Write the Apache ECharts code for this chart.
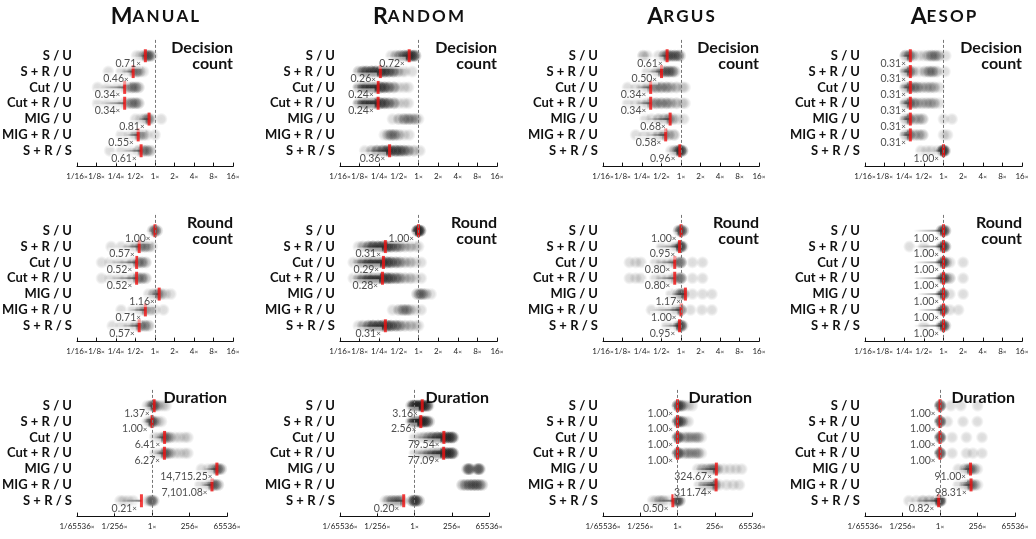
<!DOCTYPE html>
<html>
<head>
<meta charset="utf-8">
<script src="https://cdn.jsdelivr.net/npm/echarts@6/dist/echarts.min.js"></script>
<style>
  html, body { margin: 0; padding: 0; background: #fff; }
  #chart { width: 1036px; height: 539px; }
</style>
</head>
<body>
<div id="chart"></div>
<script>
const systems = ['Manual', 'Random', 'Argus', 'Aesop']
const metrics = ['Decision\ncount', 'Round\ncount', 'Duration']
const rowNames = ['S / U', 'S\u2005+\u2005R / U', 'Cut / U', 'Cut\u2005+\u2005R / U', 'MIG / U', 'MIG\u2005+\u2005R / U', 'S\u2005+\u2005R / S']
const ratioTicks = ['1/16', '1/8', '1/4', '1/2', '1', '2', '4', '8', '16']
const durationTicks = ['1/65536', '1/256', '1', '256', '65536']

// medians, whisker starts, and dots as [ratio, how many runs]
const decManualMed = [0.71, 0.46, 0.34, 0.34, 0.81, 0.55, 0.61]
const decManualLo = [0.6, 0.3, 0.15, 0.15, 0.55, 0.35, 0.3]
const decManualDots = [
  [[0.52,1],[0.6,1],[0.68,2],[0.75,3],[0.8,3],[0.85,2],[0.9,1]],
  [[0.19,1],[0.3,1],[0.38,1],[0.45,2],[0.52,3],[0.58,2],[0.66,1]],
  [[0.13,1],[0.18,1],[0.25,1],[0.32,1],[0.38,2],[0.44,3],[0.5,3],[0.56,2]],
  [[0.13,1],[0.18,1],[0.25,1],[0.32,1],[0.38,2],[0.44,3],[0.5,3],[0.56,2]],
  [[0.5,1],[0.6,1],[0.7,2],[0.78,3],[0.85,2],[1.25,1]],
  [[0.3,1],[0.4,1],[0.5,2],[0.58,2],[0.66,2],[0.75,1],[1.0,1]],
  [[0.2,1],[0.3,1],[0.42,1],[0.55,2],[0.66,3],[0.75,3],[0.85,2]]
]

const decRandomMed = [0.72, 0.26, 0.24, 0.24, null, null, 0.36]
const decRandomLo = [0.5, 0.12, 0.12, 0.12, null, null, 0.15]
const decRandomDots = [
  [[0.38,1],[0.45,2],[0.52,3],[0.6,4],[0.68,5],[0.76,5],[0.84,5],[0.9,3]],
  [[0.12,2],[0.14,4],[0.16,5],[0.19,6],[0.22,6],[0.26,6],[0.3,6],[0.35,5],[0.41,4],[0.48,2],[0.56,1],[0.62,1],[0.8,1]],
  [[0.12,3],[0.14,5],[0.16,6],[0.19,6],[0.22,6],[0.26,6],[0.3,5],[0.35,4],[0.42,3],[0.5,1],[0.6,1],[0.7,1]],
  [[0.12,3],[0.14,5],[0.16,6],[0.19,6],[0.22,6],[0.26,6],[0.3,5],[0.35,4],[0.42,3],[0.5,1],[0.6,1],[0.7,1]],
  [[0.4,1],[0.5,2],[0.6,3],[0.7,3],[0.8,2],[0.9,2],[1.0,1]],
  [[0.3,1],[0.34,2],[0.38,3],[0.43,3],[0.5,2],[0.6,1],[0.72,1]],
  [[0.15,1],[0.19,2],[0.23,4],[0.28,5],[0.33,6],[0.38,6],[0.45,6],[0.52,5],[0.6,4],[0.7,3],[0.85,2],[1.05,1]]
]

const decArgusMed = [0.61, 0.50, 0.34, 0.34, 0.68, 0.58, 0.96]
const decArgusLo = [0.45, 0.3, 0.2, 0.2, 0.3, 0.3, 0.8]
const decArgusDots = [
  [[0.26,2],[0.3,1],[0.45,1],[0.55,3],[0.62,4],[0.7,4],[0.8,4],[0.9,3],[0.97,2]],
  [[0.3,1],[0.42,2],[0.5,3],[0.57,4],[0.65,4],[0.73,3],[0.8,2]],
  [[0.15,1],[0.2,1],[0.25,1],[0.3,2],[0.36,2],[0.42,3],[0.5,3],[0.6,3],[0.7,2],[0.85,2],[1.05,1],[1.15,1]],
  [[0.15,1],[0.2,1],[0.25,1],[0.3,2],[0.36,2],[0.42,3],[0.5,3],[0.6,3],[0.7,2],[0.85,2],[1.05,1],[1.15,1]],
  [[0.28,1],[0.35,1],[0.45,2],[0.55,2],[0.65,3],[0.75,2],[0.9,1],[1.1,1]],
  [[0.2,1],[0.27,1],[0.35,1],[0.45,2],[0.55,3],[0.65,2],[0.78,2]],
  [[0.7,1],[0.8,2],[0.9,4],[0.98,6],[1.05,4]]
]

const decAesopMed = [0.31, 0.31, 0.31, 0.31, 0.31, 0.31, 1.00]
const decAesopLo = [0.23, 0.23, 0.23, 0.23, 0.23, 0.23, 0.7]
const decAesopDots = [
  [[0.26,3],[0.3,4],[0.34,2],[0.42,1],[0.5,1],[0.58,2],[0.66,3],[0.75,3],[0.85,2],[1.08,1]],
  [[0.26,3],[0.3,4],[0.34,2],[0.42,1],[0.52,2],[0.6,3],[0.68,3],[0.78,2],[1.05,1]],
  [[0.26,3],[0.3,4],[0.35,3],[0.4,3],[0.47,2],[0.55,2],[0.63,2],[0.72,2],[0.85,1]],
  [[0.26,3],[0.3,4],[0.35,3],[0.4,2],[0.47,2],[0.55,2],[0.63,2],[0.72,2],[0.85,1]],
  [[0.26,3],[0.3,4],[0.36,2],[0.42,2],[0.48,2],[1.0,1],[1.35,1]],
  [[0.26,3],[0.3,4],[0.36,2],[0.42,2],[0.48,2],[1.0,1],[1.15,1]],
  [[0.45,1],[0.55,1],[0.65,1],[0.8,1],[0.95,4],[1.0,6],[1.05,3]]
]

const rndManualMed = [1.00, 0.57, 0.52, 0.52, 1.16, 0.71, 0.57]
const rndManualLo = [0.95, 0.3, 0.2, 0.2, 0.9, 0.4, 0.3]
const rndManualDots = [
  [[0.92,2],[1.0,4],[1.08,2]],
  [[0.21,1],[0.3,1],[0.4,1],[0.5,2],[0.6,3],[0.7,3],[0.8,2],[0.9,1]],
  [[0.15,1],[0.2,1],[0.27,1],[0.35,1],[0.45,2],[0.55,3],[0.63,3],[0.72,2]],
  [[0.15,1],[0.2,1],[0.27,1],[0.35,1],[0.45,2],[0.55,3],[0.63,3],[0.72,2]],
  [[0.8,1],[0.95,2],[1.1,3],[1.25,2],[1.45,1],[1.75,1]],
  [[0.3,1],[0.45,1],[0.6,2],[0.7,2],[0.85,2],[1.0,1],[1.35,1]],
  [[0.22,1],[0.3,1],[0.4,1],[0.5,2],[0.6,3],[0.7,3],[0.8,2]]
]

const rndRandomMed = [1.00, 0.31, 0.29, 0.28, null, null, 0.31]
const rndRandomLo = [0.95, 0.12, 0.1, 0.1, null, null, 0.12]
const rndRandomDots = [
  [[0.95,5],[1.0,8],[1.07,5]],
  [[0.12,1],[0.14,2],[0.17,4],[0.2,6],[0.24,6],[0.28,6],[0.33,6],[0.38,5],[0.45,4],[0.52,3],[0.62,2],[0.75,2],[0.9,1],[1.0,1]],
  [[0.1,1],[0.12,2],[0.14,4],[0.17,6],[0.2,6],[0.24,6],[0.28,6],[0.33,6],[0.38,5],[0.45,4],[0.52,3],[0.62,2],[0.75,2],[0.9,1],[1.1,1]],
  [[0.1,1],[0.12,2],[0.14,4],[0.17,6],[0.2,6],[0.24,6],[0.28,6],[0.33,6],[0.38,5],[0.45,4],[0.52,3],[0.62,2],[0.75,2],[0.9,1],[1.1,1]],
  [[0.95,2],[1.05,3],[1.15,3],[1.3,2],[1.55,1]],
  [[0.4,1],[0.5,2],[0.58,3],[0.66,3],[0.75,2],[0.9,1],[1.1,1]],
  [[0.12,1],[0.14,2],[0.17,4],[0.2,6],[0.24,6],[0.28,6],[0.33,6],[0.38,5],[0.45,4],[0.52,3],[0.62,2],[0.75,2],[0.9,1],[1.0,1]]
]

const rndArgusMed = [1.00, 0.95, 0.80, 0.80, 1.17, 1.00, 0.95]
const rndArgusLo = [0.95, 0.4, 0.4, 0.4, 0.7, 0.35, 0.5]
const rndArgusDots = [
  [[0.92,3],[1.0,5],[1.08,3]],
  [[0.5,1],[0.7,1],[0.85,2],[0.95,3],[1.0,5],[1.06,2]],
  [[0.16,1],[0.2,1],[0.24,1],[0.4,1],[0.5,1],[0.62,1],[0.75,2],[0.9,2],[1.0,4],[1.5,1],[2.15,1]],
  [[0.16,1],[0.2,1],[0.24,1],[0.4,1],[0.5,1],[0.62,1],[0.75,2],[0.9,2],[1.0,4],[1.5,1],[2.15,1]],
  [[0.7,1],[0.9,2],[1.0,4],[1.1,3],[1.5,1],[2.15,1],[3.0,1]],
  [[0.35,1],[0.5,1],[0.7,1],[0.85,2],[1.0,4],[1.4,1],[2.1,1],[3.0,1]],
  [[0.6,1],[0.8,1],[0.92,3],[1.0,5],[1.06,2]]
]

const rndAesopMed = [1.00, 1.00, 1.00, 1.00, 1.00, 1.00, 1.00]
const rndAesopLo = [0.35, 0.35, 0.35, 0.35, 0.4, 0.4, 0.35]
const rndAesopDots = [
  [[0.93,3],[1.0,5],[1.07,3]],
  [[0.3,1],[0.5,1],[0.93,3],[1.0,5],[1.07,3]],
  [[0.93,3],[1.0,5],[1.1,2],[1.25,1],[2.0,1]],
  [[0.93,3],[1.0,5],[1.1,2],[1.25,2],[2.0,1]],
  [[0.93,3],[1.0,5],[1.25,1],[2.0,1]],
  [[0.93,3],[1.0,5],[1.25,1],[1.7,1]],
  [[0.5,1],[0.93,3],[1.0,5],[1.07,2]]
]

const durManualMed = [1.37, 1.00, 6.41, 6.27, 14715.25, 7101.08, 0.21]
const durManualLo = [0.7, 0.6, 1.5, 1.5, 2000, 1500, 0.009]
const durManualDots = [
  [[0.5,1],[0.8,2],[1.1,3],[1.4,3],[2,2],[3,1],[5,1],[8,1]],
  [[0.5,1],[0.7,2],[0.9,3],[1.1,3],[1.6,2],[2.5,1],[4,1]],
  [[1.5,1],[3,1],[5,2],[7,3],[10,2],[15,2],[30,1],[60,1],[120,1],[200,1]],
  [[1.5,1],[3,1],[5,2],[7,3],[10,2],[15,2],[30,1],[60,1],[120,1],[200,1]],
  [[1500,1],[4000,1],[8000,2],[14000,3],[20000,3],[28000,2]],
  [[1200,1],[3000,1],[5000,2],[8000,3],[12000,3],[18000,2]],
  [[0.009,1],[0.015,1],[0.03,1],[0.06,1],[0.5,1],[0.8,2],[1.0,3],[1.3,2]]
]

const durRandomMed = [3.16, 2.56, 79.54, 77.09, null, null, 0.20]
const durRandomLo = [0.6, 0.6, 1, 1, null, null, 0.013]
const durRandomDots = [
  [[0.6,2],[0.8,4],[1.0,5],[1.5,6],[2.2,6],[3.2,6],[4.5,5],[6.5,4],[8,2]],
  [[0.6,2],[0.8,4],[1.0,5],[1.5,6],[2.2,6],[3.2,6],[4.5,5],[6.5,4],[9,2]],
  [[1,1],[2,1],[4,2],[8,3],[15,4],[30,6],[60,6],[100,6],[160,6],[250,5],[320,3]],
  [[1,1],[2,1],[4,2],[8,3],[15,4],[30,6],[60,6],[100,6],[160,6],[250,5],[320,3]],
  [[2500,2],[3200,4],[4000,2],[11000,2],[14000,4],[17000,2]],
  [[1200,2],[2000,3],[3500,4],[6000,4],[10000,4],[16000,3],[24000,2]],
  [[0.013,1],[0.02,2],[0.035,3],[0.06,3],[0.1,3],[0.15,2],[0.7,3],[1.0,6],[1.4,4],[2,2]]
]

const durArgusMed = [1.00, 1.00, 1.00, 1.00, 324.67, 311.74, 0.50]
const durArgusLo = [0.9, 0.9, 0.9, 0.9, 15, 20, 0.03]
const durArgusDots = [
  [[1.0,5],[1.4,4],[2,3],[3,1],[5,1],[9,1]],
  [[1.0,5],[1.4,4],[2,3],[3,1],[5,1]],
  [[1.0,5],[1.4,3],[3,2],[5,2],[8,2],[14,2],[22,2],[35,1]],
  [[1.0,5],[1.4,3],[3,2],[5,2],[8,2],[14,2],[22,2],[35,1]],
  [[20,1],[40,2],[80,2],[150,3],[250,3],[400,2],[1000,1],[2500,1],[6000,1],[14000,1]],
  [[25,1],[50,2],[100,2],[180,3],[280,3],[500,1],[1500,1],[4000,1],[10000,1]],
  [[0.025,1],[0.04,1],[0.07,2],[0.12,2],[0.25,1],[0.8,2],[1.0,5],[1.4,3]]
]

const durAesopMed = [1.00, 1.00, 1.00, 1.00, 91.00, 98.31, 0.82]
const durAesopLo = [0.9, 0.9, 0.9, 0.9, 20, 20, 0.02]
const durAesopDots = [
  [[1.0,5],[1.1,2],[5,1],[22,1],[260,1]],
  [[1.0,5],[1.1,2],[3,1],[30,1],[250,1]],
  [[1.0,5],[1.1,2],[6,1],[50,1],[500,1]],
  [[1.0,5],[1.1,2],[6,1],[50,1],[130,1],[500,1]],
  [[15,1],[40,2],[70,3],[100,3],[160,2],[250,1]],
  [[15,1],[40,2],[70,3],[110,3],[170,2],[260,1]],
  [[0.01,1],[0.03,1],[0.08,2],[0.2,2],[0.5,2],[0.9,3],[1.0,5],[1.2,2]]
]

const panels = [
  [decManualMed, decManualLo, decManualDots], [decRandomMed, decRandomLo, decRandomDots],
  [decArgusMed, decArgusLo, decArgusDots], [decAesopMed, decAesopLo, decAesopDots],
  [rndManualMed, rndManualLo, rndManualDots], [rndRandomMed, rndRandomLo, rndRandomDots],
  [rndArgusMed, rndArgusLo, rndArgusDots], [rndAesopMed, rndAesopLo, rndAesopDots],
  [durManualMed, durManualLo, durManualDots], [durRandomMed, durRandomLo, durRandomDots],
  [durArgusMed, durArgusLo, durArgusDots], [durAesopMed, durAesopLo, durAesopDots]
]

// layout
const gridTops = [39.9, 214.9, 389.9]
const gridHeight = 126.7
const gridLefts = [77, 340, 603, 865]
const gridWidths = [[156, 157, 156, 157], [156, 157, 156, 157], [150, 149, 149, 150]]
const font = 'Lato'

const fmt = v => v.toLocaleString('en-US', { minimumFractionDigits: 2, maximumFractionDigits: 2 })
const smallCaps = s => '{a|' + s[0] + '}{b|' + s.slice(1).toUpperCase().split('').join('\u2009') + '}'

const dotColor = new echarts.graphic.RadialGradient(0.5, 0.5, 0.5, [
  { offset: 0, color: 'rgba(30,30,30,0.2)' },
  { offset: 0.55, color: 'rgba(30,30,30,0.17)' },
  { offset: 1, color: 'rgba(30,30,30,0)' }
])

const option = { animation: false, grid: [], xAxis: [], yAxis: [], series: [], graphic: [] }

panels.forEach((p, i) => {
  const m = Math.floor(i / 4), c = i % 4
  const [med, lo, dots] = p
  const isDur = m === 2
  const ticks = isDur ? durationTicks : ratioTicks
  const span = isDur ? 16 : 4
  const step = isDur ? 8 : 1

  option.grid.push({
    left: gridLefts[c], top: gridTops[m], width: gridWidths[m][c], height: gridHeight,
    outerBoundsMode: 'none'
  })
  option.xAxis.push({
    gridIndex: i, type: 'value', position: 'bottom', min: -span, max: span, interval: step,
    axisLine: { onZero: false, lineStyle: { color: '#111', width: 1 } },
    axisTick: { inside: true, length: 4, lineStyle: { color: '#111' } },
    splitLine: { show: false },
    axisLabel: {
      margin: 6, hideOverlap: false, showMinLabel: true, showMaxLabel: true,
      formatter: v => '{n|' + ticks[Math.round((v + span) / step)] + '}{x|×}',
      rich: {
        n: { fontFamily: font, fontSize: 8, color: '#222' },
        x: { fontFamily: font, fontSize: 6.5, color: '#222' }
      }
    }
  })
  option.yAxis.push({
    gridIndex: i, type: 'value', inverse: true, min: -1, max: 7, interval: 1,
    axisLine: { show: false }, axisTick: { show: false }, splitLine: { show: false },
    axisLabel: {
      margin: 5, fontFamily: font, fontWeight: 'bold', fontSize: 13, color: '#111',
      formatter: v => rowNames[Math.round(v)] || ''
    }
  })

  const dotData = []
  dots.forEach((row, r) => row.forEach(([v, n]) => {
    for (let k = 0; k < n; k++) dotData.push([Math.log2(v), r])
  }))
  option.series.push({
    type: 'scatter', xAxisIndex: i, yAxisIndex: i, silent: true, z: 1,
    symbolSize: 13, itemStyle: { color: dotColor },
    data: dotData,
    markLine: {
      silent: true, symbol: ['none', 'none'], label: { show: false },
      lineStyle: { type: [3, 2], color: '#777', width: 1 },
      data: [{ xAxis: 0 }]
    }
  })

  const whisk = [], meds = []
  med.forEach((v, r) => {
    if (v == null) return
    whisk.push([Math.log2(lo[r]), Math.log2(v), r])
    meds.push([Math.log2(v), r, v])
  })
  option.series.push({
    type: 'custom', xAxisIndex: i, yAxisIndex: i, silent: true, z: 2,
    data: whisk,
    renderItem: (params, api) => {
      const a = api.coord([api.value(0), api.value(2)])
      const b = api.coord([api.value(1), api.value(2)])
      return {
        type: 'rect',
        shape: { x: a[0], y: a[1] - 1, width: Math.max(b[0] - a[0], 0.5), height: 2 },
        style: {
          fill: new echarts.graphic.LinearGradient(0, 0, 1, 0, [
            { offset: 0, color: 'rgba(40,40,40,0)' },
            { offset: 1, color: 'rgba(40,40,40,0.6)' }
          ])
        }
      }
    }
  })
  option.series.push({
    type: 'scatter', xAxisIndex: i, yAxisIndex: i, silent: true, z: 3,
    symbol: 'rect', symbolSize: [3, 13],
    itemStyle: { color: '#f01010' },
    data: meds,
    label: {
      show: true, position: 'left', distance: 2, offset: [0, 7],
      backgroundColor: 'rgba(255,255,255,0.6)', padding: [1, 1, 0, 1],
      formatter: q => '{v|' + fmt(q.value[2]) + '}{x|×}',
      rich: {
        v: { fontFamily: font, fontSize: 10.5, color: '#222' },
        x: { fontFamily: font, fontSize: 8, color: '#222' }
      }
    }
  })

  // metric name in the top right corner of each panel
  option.graphic.push({
    type: 'text', silent: true, z: 10,
    style: {
      x: gridLefts[c] + gridWidths[m][c], y: gridTops[m],
      text: metrics[m], align: 'right', verticalAlign: 'top',
      fontFamily: font, fontWeight: 'bold', fontSize: 16, lineHeight: 16, fill: '#111'
    }
  })
})

systems.forEach((s, c) => {
  option.graphic.push({
    type: 'text', silent: true,
    style: {
      x: gridLefts[c] + gridWidths[0][c] / 2, y: 17,
      text: smallCaps(s), align: 'center', verticalAlign: 'middle',
      rich: {
        a: { fontFamily: font, fontWeight: 'bold', fontSize: 23, fill: '#111' },
        b: { fontFamily: font, fontWeight: 'bold', fontSize: 17, fill: '#111' }
      }
    }
  })
})

const chart = echarts.init(document.getElementById('chart'))
chart.setOption(option)
</script>
</body>
</html>
